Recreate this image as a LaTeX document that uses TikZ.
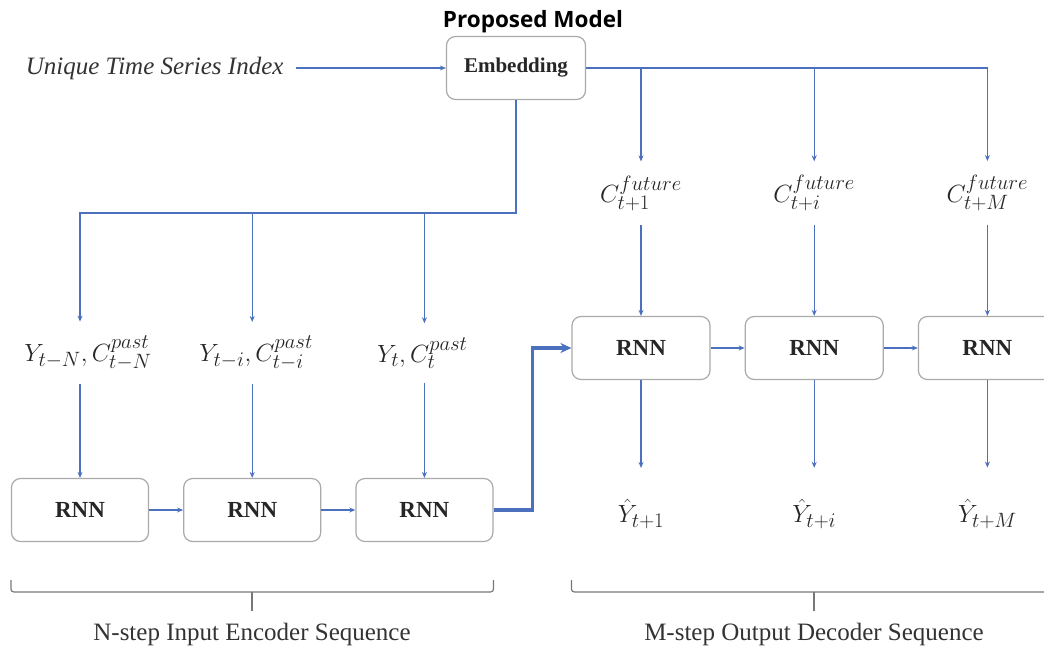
\documentclass[tikz,border=0pt]{standalone}
\usepackage{fontspec}
\setmainfont{Liberation Serif}
\newfontfamily\titlefont{Open Sans}
\usetikzlibrary{arrows.meta, positioning, calc}

\definecolor{linkblue}{RGB}{74,112,190}
\definecolor{boxgray}{RGB}{170,170,170}
\definecolor{bracegray}{RGB}{120,120,120}

\begin{document}
\begin{tikzpicture}[
    x=1pt, y=-1pt,
    >={Stealth[length=6pt, width=5pt]},
    node distance=34pt,
    % styles for boxes, labels and links
    rnnbox/.style={rectangle, rounded corners=9pt, draw=boxgray, line width=1.2pt, fill=white, minimum width=138pt, minimum height=63pt, text=black!85, font=\fontsize{23}{26}\selectfont\bfseries},
    embbox/.style={rnnbox, minimum width=139pt, font=\fontsize{21}{24}\selectfont\bfseries},
    mathlabel/.style={inner xsep=0pt, inner ysep=14pt, text=black!85, font=\fontsize{24.88}{28}\selectfont},
    seqlabel/.style={text=black!80, font=\fontsize{25}{28}\selectfont},
    flow/.style={->, draw=linkblue, line width=1.3pt},
    mainflow/.style={-{Stealth[length=11pt, width=10pt]}, draw=linkblue, line width=3.5pt},
    bracket/.style={draw=bracegray, line width=1.2pt},
]
\useasboundingbox (0,0) rectangle (1044,650);
\clip (0,0) rectangle (1044,650);

% -------------------------
% Top: index and embedding
% -------------------------
\node (title) [font=\titlefont\fontsize{22.5}{26}\selectfont\bfseries] at (533,22) {Proposed Model};
\node (embed) [embbox] at (516,68) {Embedding};
\node (index) [seqlabel, anchor=east, font=\fontsize{25}{28}\selectfont\itshape] at (287,68) {Unique Time Series Index};

% -------------------------
% Encoder
% -------------------------
\node (enc1) [rnnbox, minimum width=137pt] at (80,510) {RNN};
\node (enc2) [rnnbox, minimum width=137pt, right=of enc1] {RNN};
\node (enc3) [rnnbox, minimum width=137pt, right=of enc2] {RNN};

\node (in1) [mathlabel, xshift=8pt] at (enc1 |- 0,353) {$Y_{t-N}, C_{t-N}^{past}$};
\node (in2) [mathlabel, xshift=4pt] at (enc2 |- 0,353) {$Y_{t-i}, C_{t-i}^{past}$};
\node (in3) [mathlabel, xshift=-2pt] at (enc3 |- 0,353) {$Y_{t}, C_{t}^{past}$};

% -------------------------
% Decoder
% -------------------------
\node (dec1) [rnnbox] at (641,348) {RNN};
\node (dec2) [rnnbox, right=of dec1] {RNN};
\node (dec3) [rnnbox, right=of dec2] {RNN};

\node (fut1) [mathlabel] at (dec1 |- 0,193) {$C_{t+1}^{future}$};
\node (fut2) [mathlabel] at (dec2 |- 0,193) {$C_{t+i}^{future}$};
\node (fut3) [mathlabel] at (dec3 |- 0,193) {$C_{t+M}^{future}$};

\node (out1) [mathlabel] at (dec1 |- 0,514) {$\hat{Y}_{t+1}$};
\node (out2) [mathlabel] at (dec2 |- 0,514) {$\hat{Y}_{t+i}$};
\node (out3) [mathlabel] at (dec3 |- 0,514) {$\hat{Y}_{t+M}$};

% -------------------------
% Sequence captions
% -------------------------
\node (encseq) [seqlabel] at (252,634) {N-step Input Encoder Sequence};
\node (decseq) [seqlabel] at (814,634) {M-step Output Decoder Sequence};

% -------------------------
% Arrow Connections
% -------------------------
\draw[flow, shorten <=9pt] (index) -- (embed);

% embedding to future covariates
\draw[flow] (embed.east) -| (fut3);
\draw[flow] (embed.east -| fut1) -- (fut1);
\draw[flow] (embed.east -| fut2) -- (fut2);

% embedding to past inputs
\coordinate (split) at (embed.south |- 0,213);
\draw[flow] (embed.south) -- (split) -| (in1.north -| enc1);
\draw[flow] (split -| enc2) -- (in2.north -| enc2);
\draw[flow] (split -| enc3) -- (in3.north -| enc3);

% encoder
\draw[flow] (in1.south -| enc1) -- (enc1);
\draw[flow] (in2.south -| enc2) -- (enc2);
\draw[flow] (in3.south -| enc3) -- (enc3);
\draw[flow] (enc1) -- (enc2);
\draw[flow] (enc2) -- (enc3);

% encoder state to decoder
\coordinate (bridge) at ($(enc3.east)+(39,0)$);
\draw[mainflow] (enc3.east) -- (bridge) |- (dec1.west);

% decoder
\draw[flow] (fut1) -- (dec1);
\draw[flow] (fut2) -- (dec2);
\draw[flow] (fut3) -- (dec3);
\draw[flow] (dec1) -- (dec2);
\draw[flow] (dec2) -- (dec3);
\draw[flow, shorten >=17pt] (dec1) -- (out1);
\draw[flow, shorten >=17pt] (dec2) -- (out2);
\draw[flow, shorten >=17pt] (dec3) -- (out3);

% brackets
\draw[bracket, rounded corners=3pt] (enc1.west |- 0,580) -- (enc1.west |- 0,592) -- (enc3.east |- 0,592) -- (enc3.east |- 0,580);
\draw[bracket] (encseq.north |- 0,592) -- (encseq.north |- 0,611);
\draw[bracket, rounded corners=3pt] (dec1.west |- 0,580) -- (dec1.west |- 0,592) -- (dec3.east |- 0,592) -- (dec3.east |- 0,580);
\draw[bracket] (decseq.north |- 0,592) -- (decseq.north |- 0,611);

\end{tikzpicture}
\end{document}
